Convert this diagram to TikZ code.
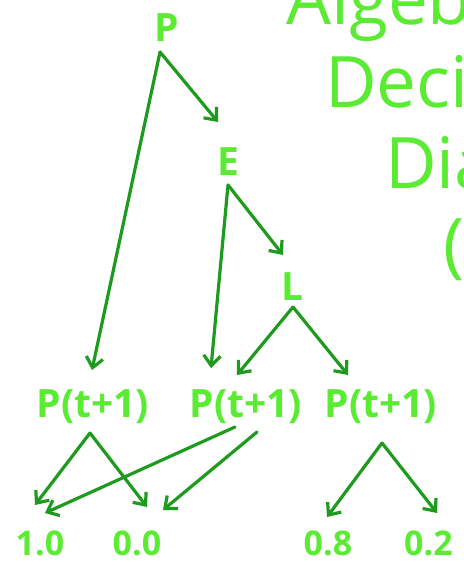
\documentclass[tikz,border=0pt]{standalone}
\usepackage{fontspec}
\setmainfont{Open Sans}
\usetikzlibrary{arrows.meta}
\definecolor{lbl}{RGB}{90,235,50}
\definecolor{arr}{RGB}{30,155,30}
\tikzset{
  lab/.style={text=lbl, font=\fontsize{39}{39}\selectfont\bfseries, inner sep=0pt, anchor=base},
  num/.style={text=lbl, font=\fontsize{34}{34}\selectfont\bfseries, inner sep=0pt, anchor=base},
  ttl/.style={text=lbl, font=\fontsize{71}{71}\selectfont, inner sep=0pt, anchor=base west},
  link/.style={draw=arr, line width=3.2pt, line cap=round, -{Straight Barb[length=10pt,width=17pt]}}
}
\begin{document}
\begin{tikzpicture}[x=1pt,y=-1pt]
\useasboundingbox (0,0) rectangle (463,567);
\fill[white] (0,0) rectangle (463,567);
\clip (0,0) rectangle (463,567);
% title (cut off at the right edge)
\node[ttl] (t1) at (286,25) {Algebr};
\node[ttl] (t2) at (325,107) {Decis};
\node[ttl] (t3) at (385,188) {Dia};
\node[ttl] (t4) at (443,269) {(};
% tree labels
\node[lab] (P) at (167,42) {P};
\node[lab] (E) at (228,175) {E};
\node[lab] (L) at (293,300) {L};
\node[lab] (Q1) at (93,417) {P(t+1)};
\node[lab] (Q2) at (246,417) {P(t+1)};
\node[lab] (Q3) at (381,417) {P(t+1)};
\node[num] (n1) at (40,555) {1.0};
\node[num] (n2) at (137,555) {0.0};
\node[num] (n3) at (328,555) {0.8};
\node[num, anchor=base west] (n4) at (404,555) {0.2};
% connector points
\coordinate (Pa) at (160,52);
\coordinate (Ein) at (218,122);
\coordinate (Q1in) at (92,370);
\coordinate (Ea) at (228,185);
\coordinate (Lin) at (283,255);
\coordinate (Q2in) at (211,368);
\coordinate (La) at (293,307);
\coordinate (Q2inb) at (237,375);
\coordinate (Q3in) at (348,375);
\coordinate (Q1a) at (90,433);
\coordinate (n1in) at (35,505);
\coordinate (n2in) at (147,507);
\coordinate (Q2a) at (235,427);
\coordinate (n1inb) at (45,513);
\coordinate (Q2b) at (257,432);
\coordinate (n2inb) at (163,510);
\coordinate (Q3a) at (382,443);
\coordinate (n3in) at (327,517);
\coordinate (n4in) at (437,513);
% connectors
\draw[link] (Pa) -- (Ein);
\draw[link] (Pa) -- (Q1in);
\draw[link] (Ea) -- (Lin);
\draw[link] (Ea) -- (Q2in);
\draw[link] (La) -- (Q2inb);
\draw[link] (La) -- (Q3in);
\draw[link] (Q1a) -- (n1in);
\draw[link] (Q1a) -- (n2in);
\draw[link] (Q2a) -- (n1inb);
\draw[link] (Q2b) -- (n2inb);
\draw[link] (Q3a) -- (n3in);
\draw[link] (Q3a) -- (n4in);
\end{tikzpicture}
\end{document}
